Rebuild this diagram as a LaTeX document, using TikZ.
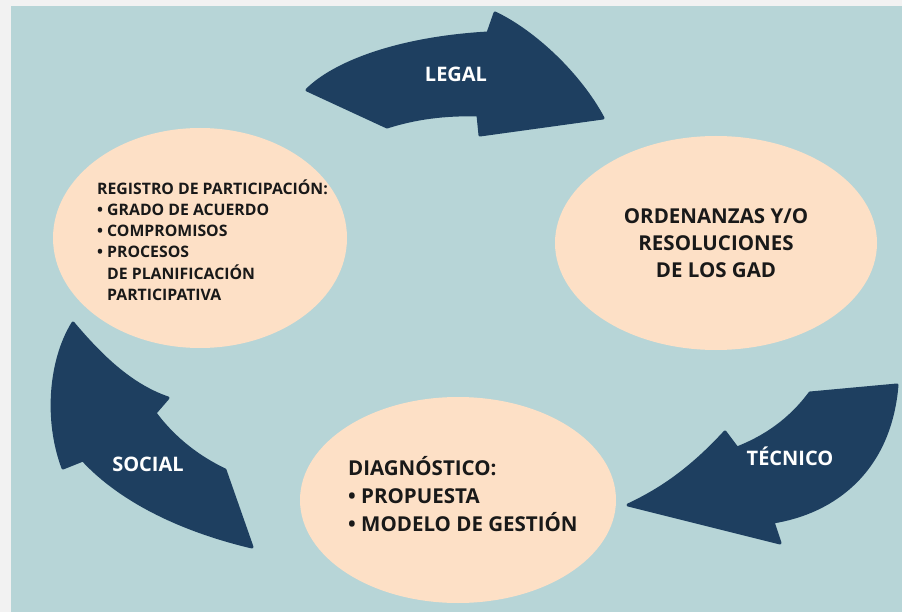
\documentclass[tikz,border=0pt]{standalone}
\usepackage{fontspec}
\setmainfont{Open Sans}
\usepackage{tikz}
\usetikzlibrary{shapes.geometric}

\definecolor{panelblue}{HTML}{B7D5D7}
\definecolor{bubblepeach}{HTML}{FDE0C6}
\definecolor{bandnavy}{HTML}{1E3F60}
\definecolor{framegray}{HTML}{F2F2F2}

\begin{document}
\begin{tikzpicture}[x=1pt, y=-1pt,
    bubble/.style={ellipse, fill=bubblepeach, inner sep=0pt},
    bubbletext/.style={inner sep=0pt, text=black!90, font=\bfseries},
    band/.style={fill=bandnavy, draw=bandnavy, line width=3pt, line join=round},
    bandlabel/.style={inner sep=0pt, text=white, text height=0.71em, text depth=0pt,
        font=\bfseries\fontsize{20}{24}\selectfont}]
    \useasboundingbox (0,0) rectangle (902,612);
    \fill[framegray] (0,0) rectangle (902,612);
    \fill[panelblue] (11,6) rectangle (902,612);

    % ellipses
    \node[bubble, minimum width=294, minimum height=220] (registro) at (200,238) {};
    \node[bubble, minimum width=322, minimum height=214] (ordenanzas) at (716,243) {};
    \node[bubble, minimum width=316, minimum height=206] (diagnostico) at (458,500) {};

    \node[bubbletext, anchor=west, align=left, font=\bfseries\fontsize{15.8}{21.3}\selectfont]
        (registrotext) at (97,240) {REGISTRO DE PARTICIPACIÓN:\\
        \textbullet\ GRADO DE ACUERDO\\
        \textbullet\ COMPROMISOS\\
        \textbullet\ PROCESOS\\
        \phantom{\textbullet\ }DE PLANIFICACIÓN\\
        \phantom{\textbullet\ }PARTICIPATIVA};
    \node[bubbletext, align=center, font=\bfseries\fontsize{20.5}{27}\selectfont]
        (ordenanzastext) at (ordenanzas.center) {ORDENANZAS Y/O\\ RESOLUCIONES\\ DE LOS GAD};
    \node[bubbletext, anchor=west, align=left, font=\bfseries\fontsize{20.5}{28}\selectfont]
        (diagnosticotext) at (348,494) {DIAGNÓSTICO:\\
        \textbullet\ PROPUESTA\\
        \textbullet\ MODELO DE GESTIÓN};

    % curved arrows
    \filldraw[band] (307,90) .. controls (335,62) and (400,38) .. (488,33)
        -- (495,13) .. controls (535,32) and (580,75) .. (603,118)
        -- (480,135) -- (478,115) .. controls (445,114) and (415,118) .. (387,127) -- cycle;
    \filldraw[band] (897,385) -- (810,393) .. controls (790,420) and (765,437) .. (737,448)
        -- (725,432) .. controls (690,470) and (660,490) .. (628,505)
        -- (780,543) -- (773,522) .. controls (835,512) and (890,470) .. (897,385) -- cycle;
    \filldraw[band] (73,323) .. controls (100,355) and (130,385) .. (168,398)
        -- (155,413) .. controls (175,440) and (200,458) .. (225,470)
        -- (252,547) .. controls (180,530) and (120,500) .. (83,460)
        -- (63,468) .. controls (45,420) and (50,360) .. (73,323) -- cycle;

    \node[bandlabel] (legal) at (456,78) {LEGAL};
    \node[bandlabel] (tecnico) at (790,462) {TÉCNICO};
    \node[bandlabel] (social) at (148,468) {SOCIAL};
\end{tikzpicture}
\end{document}
